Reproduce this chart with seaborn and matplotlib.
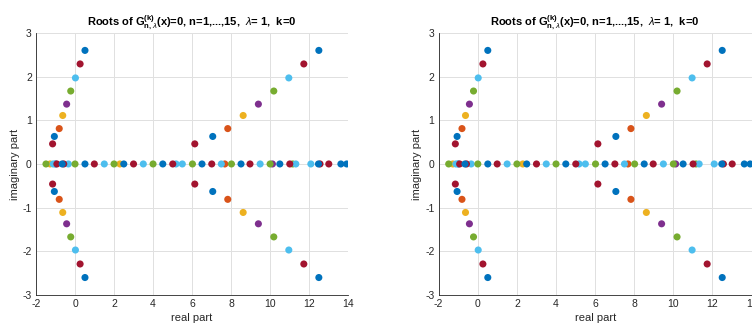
import numpy as np
import pandas as pd
import matplotlib
matplotlib.use('Agg')
import matplotlib.pyplot as plt
import seaborn as sns

# complex roots (upper half, conjugates mirrored below), n = 7..15
arc_n = [7, 8, 9, 10, 11, 12, 13, 14, 15]
left_re = [-1.15, -1.06, -0.81, -0.63, -0.43, -0.22, 0.02, 0.26, 0.51]
right_re = [6.14, 7.06, 7.83, 8.62, 9.40, 10.19, 10.96, 11.73, 12.50]
arc_im = [0.46, 0.63, 0.81, 1.11, 1.37, 1.67, 1.97, 2.29, 2.60]

# real roots, tagged by n (colour follows n)
real_n = [5, 12, 12, 12, 12, 12, 12, 5,
          3, 10,
          6, 6, 13, 13, 13, 6, 13, 13, 6, 13,
          1, 8, 15, 15, 15, 15, 15, 15, 15, 8, 15,
          7, 7, 14, 14, 14, 14, 14, 14, 14, 14,
          9, 11]
real_x = [-1.49, 0.00, 2.00, 4.00, 6.02, 8.02, 10.00, 11.16,
          -1.28, 2.30,
          -1.12, -0.34, 1.50, 3.50, 5.18, 5.50, 7.50, 9.49, 11.32, 12.09,
          -1.00, -0.66, 0.51, 2.50, 4.50, 6.51, 8.51, 10.50, 12.48, 13.63, 13.93,
          -0.93, -0.58, 0.99, 3.00, 5.01, 7.01, 8.97, 11.01, 12.56, 13.01,
          7.68, 10.12]

# MATLAB default colour order
matlab_colors = ['#0072BD', '#D95319', '#EDB120', '#7E2F8E',
                 '#77AC30', '#4DBEEE', '#A2142F']

title = (r'Roots of $\mathbf{G}^{\mathbf{(k)}}_{\mathbf{n,}\lambda}$'
         r'(x)=0, n=1,...,15,  $\lambda$= 1,  k=0')

# build long table of all roots
rows = []
for n, x in zip(real_n, real_x):
    rows.append((n, x, 0.0))
for n, xl, xr, y in zip(arc_n, left_re, right_re, arc_im):
    rows += [(n, xl, y), (n, xl, -y), (n, xr, y), (n, xr, -y)]
df = pd.DataFrame(rows, columns=['n', 're', 'im']).sort_values('n', kind='stable')
palette = {n: matlab_colors[(n - 1) % 7] for n in range(1, 16)}

sns.set_style('white')
plt.rcParams['font.family'] = ['Liberation Sans', 'DejaVu Sans']
plt.rcParams['mathtext.fontset'] = 'custom'
plt.rcParams['mathtext.rm'] = 'Liberation Sans'
plt.rcParams['mathtext.it'] = 'Liberation Sans:italic'
plt.rcParams['mathtext.bf'] = 'Liberation Sans:bold'
plt.rcParams['axes.unicode_minus'] = False

fig = plt.figure(figsize=(7.52, 3.28), dpi=100)
axes = [fig.add_axes([0.0479, 0.1006, 0.415, 0.799]),
        fig.add_axes([0.5834, 0.1006, 0.416, 0.799])]

for ax in axes:
    for n in sorted(df.n.unique()):
        sns.scatterplot(data=df[df.n == n], x='re', y='im', hue='n', palette=palette,
                        s=26, edgecolor='none', linewidth=0, legend=False, ax=ax, zorder=3)
    ax.set_xlim(-2, 14)
    ax.set_ylim(-3, 3)
    ax.set_xticks(range(-2, 15, 2))
    ax.set_yticks(range(-3, 4))
    ax.grid(True, color='#e0e0e0', lw=0.7)
    ax.set_axisbelow(True)
    for side in ['top', 'right']:
        ax.spines[side].set_visible(False)
    for side in ['left', 'bottom']:
        ax.spines[side].set_color('#262626')
        ax.spines[side].set_linewidth(0.6)
    ax.tick_params(direction='in', length=3, width=0.6, colors='#262626',
                   labelsize=7.5, pad=3)
    ax.set_xlabel('real part', fontsize=8, color='#262626', labelpad=3)
    ax.set_ylabel('imaginary part', fontsize=8, color='#262626', labelpad=2)
    ax.set_title(title, fontsize=8, fontweight='bold', color='black', pad=5)

plt.savefig('out.png', dpi=100)
